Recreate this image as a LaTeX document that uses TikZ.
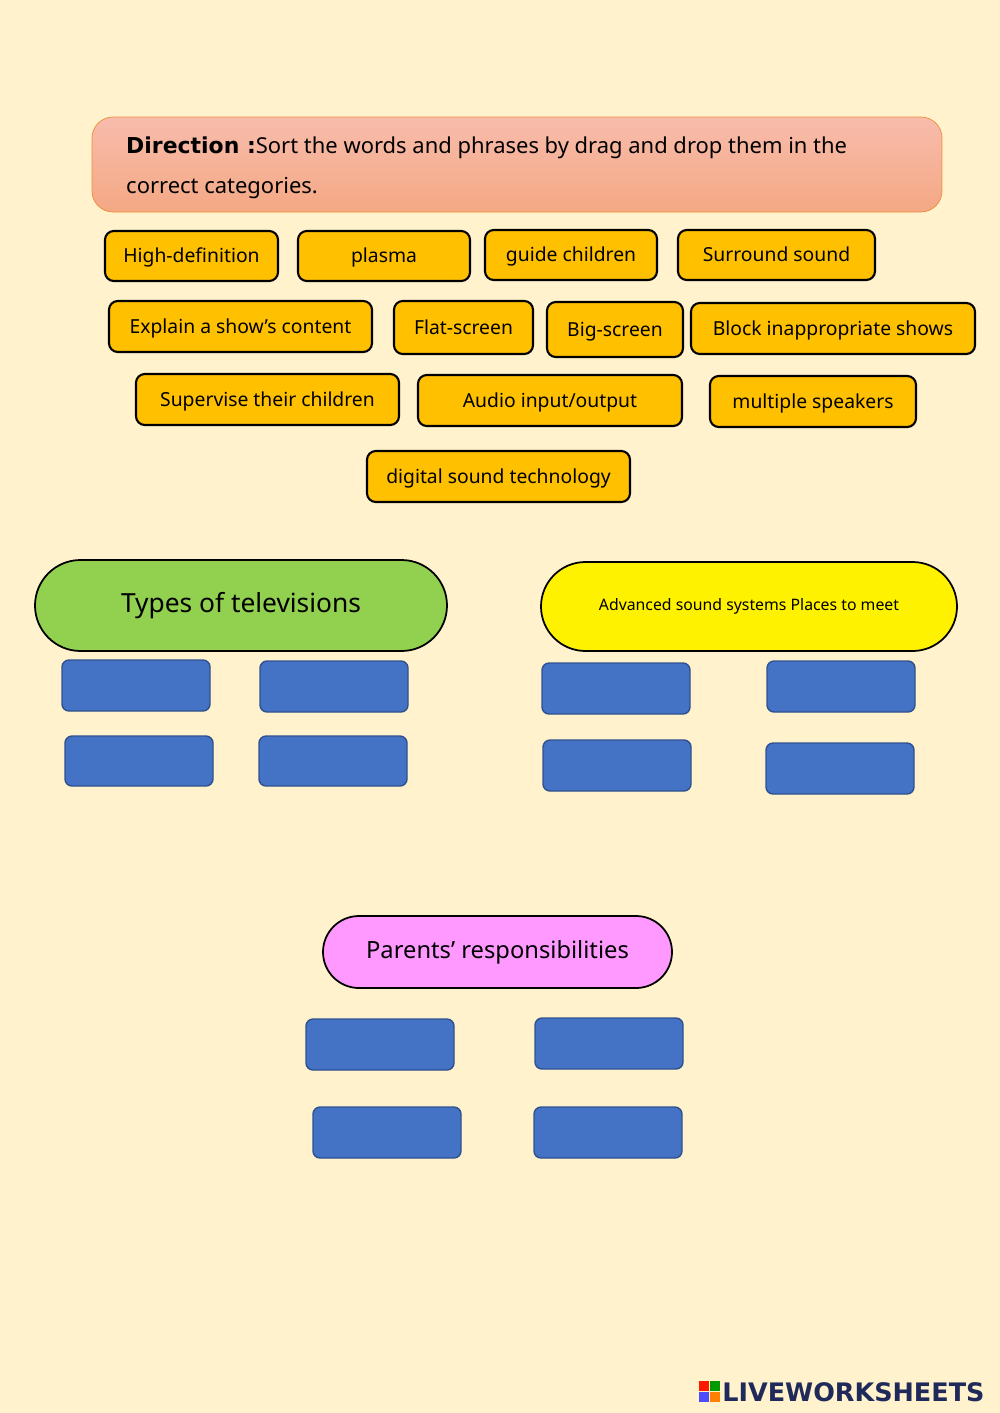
\documentclass[tikz,border=0pt]{standalone}
\usepackage{fontspec}
\setmainfont{Noto Sans}
\newfontfamily\dv{DejaVu Sans}
\usetikzlibrary{shapes.misc}
\definecolor{bg}{HTML}{FFF2CC}
\definecolor{wordfill}{HTML}{FFC000}
\definecolor{blu}{HTML}{4472C4}
\definecolor{blub}{HTML}{2F528F}
\definecolor{navy}{HTML}{1F2A5A}
\tikzset{
  box/.style={draw, inner sep=0pt, outer sep=0pt, line width=1.2pt},
  word/.style={box, fill=wordfill, rounded corners=5pt, font=\fontsize{11}{13}\selectfont, text height=1.45ex, text depth=0pt},
  slot/.style={box, fill=blu, draw=blub, line width=0.8pt, rounded corners=4pt},
  cat/.style={box, rounded rectangle, line width=1pt},
}
\newcommand{\bx}[7]{\node[#1, minimum width={(#4-#2)*0.02cm}, minimum height={(#5-#3)*0.02cm}] (#7) at ({(#2+#4)/2},{(#3+#5)/2}) {#6};}
\begin{document}
\begin{tikzpicture}[x=0.02cm,y=-0.02cm]
\fill[bg] (0,0) rectangle (1000,1413);
\useasboundingbox (0,0) rectangle (1000,1413);
\shade[top color={rgb,255:red,248;green,188;blue,172}, bottom color={rgb,255:red,244;green,168;blue,132}, draw={rgb,255:red,240;green,140;blue,60}, rounded corners=12pt] (92,117) rectangle (942,212);
\node[anchor=west, align=left, font=\fontsize{12.5}{23}\selectfont] (dir) at (120,168) {{\dv\bfseries Direction :}Sort the words and phrases by drag and drop them in the\\correct categories.};
\bx{word}{105}{231}{278}{281}{High-definition}{w1}
\bx{word}{298}{231}{470}{281}{plasma}{w2}
\bx{word}{485}{230}{657}{280}{guide children}{w3}
\bx{word}{678}{230}{875}{280}{Surround sound}{w4}
\bx{word}{109}{301}{372}{352}{Explain a show’s content}{w5}
\bx{word}{394}{301}{533}{354}{Flat-screen}{w6}
\bx{word}{547}{302}{683}{357}{Big-screen}{w7}
\bx{word}{691}{303}{975}{354}{Block inappropriate shows}{w8}
\bx{word}{136}{374}{399}{425}{Supervise their children}{w9}
\bx{word}{418}{375}{682}{426}{Audio input/output}{w10}
\bx{word}{710}{376}{916}{427}{multiple speakers}{w11}
\bx{word}{367}{451}{630}{502}{digital sound technology}{w12}
\bx{cat,fill={rgb,255:red,146;green,208;blue,80},font=\fontsize{15}{18}\selectfont}{35}{560}{447}{651}{Types of televisions}{c1}
\bx{cat,fill=yellow,font=\fontsize{9}{11}\selectfont}{541}{562}{957}{651}{Advanced sound systems Places to meet}{c2}
\bx{cat,fill={rgb,255:red,255;green,153;blue,255},font=\fontsize{13.5}{16}\selectfont}{323}{916}{672}{988}{Parents’ responsibilities}{c3}
\bx{slot}{62}{660}{210}{711}{}{s1}
\bx{slot}{260}{661}{408}{712}{}{s2}
\bx{slot}{65}{736}{213}{786}{}{s3}
\bx{slot}{259}{736}{407}{786}{}{s4}
\bx{slot}{542}{663}{690}{714}{}{s5}
\bx{slot}{767}{661}{915}{712}{}{s6}
\bx{slot}{543}{740}{691}{791}{}{s7}
\bx{slot}{766}{743}{914}{794}{}{s8}
\bx{slot}{306}{1019}{454}{1070}{}{s9}
\bx{slot}{535}{1018}{683}{1069}{}{s10}
\bx{slot}{313}{1107}{461}{1158}{}{s11}
\bx{slot}{534}{1107}{682}{1158}{}{s12}
% logo
\fill[red!80!orange] (699,1381) rectangle (709,1391);
\fill[green!60!black] (710,1381) rectangle (720,1391);
\fill[blue!70] (699,1392) rectangle (709,1402);
\fill[orange] (710,1392) rectangle (720,1402);
\node[anchor=west, inner sep=0pt, text=navy, font=\dv\fontsize{14.5}{18}\selectfont\bfseries] (logo) at (722,1392) {LIVEWORKSHEETS};
\end{tikzpicture}
\end{document}
